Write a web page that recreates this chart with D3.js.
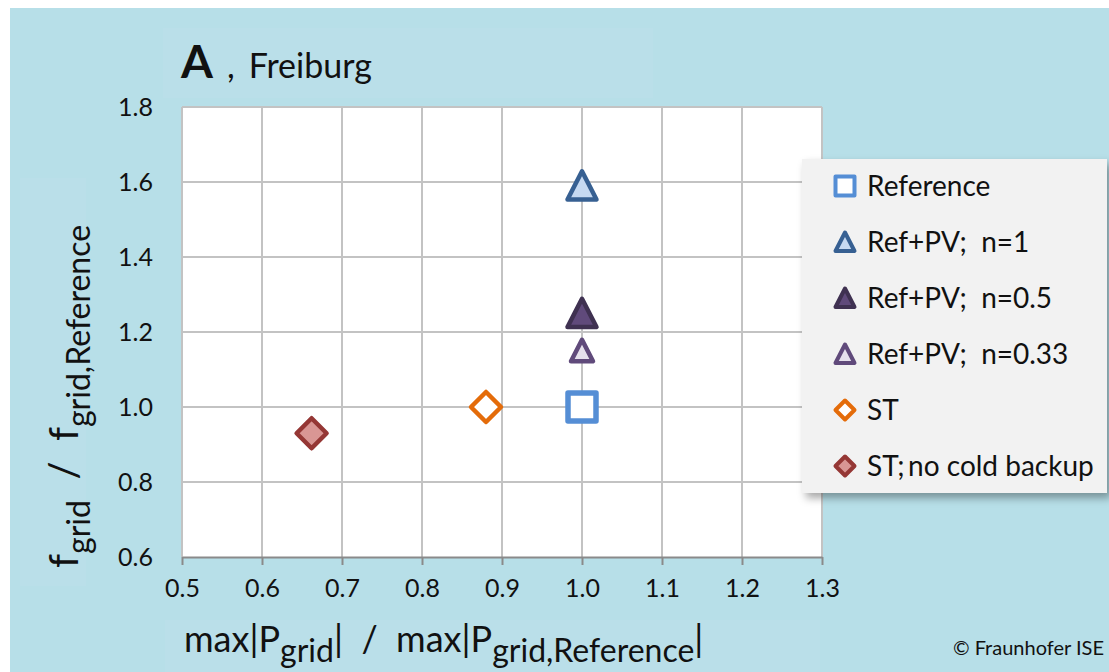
<!DOCTYPE html>
<html>
<head>
<meta charset="utf-8">
<script src="https://cdn.jsdelivr.net/npm/d3@7"></script>
<style>
  html, body { margin: 0; padding: 0; background: #ffffff; }
  svg { display: block; }
  text { font-family: Lato, "Open Sans", sans-serif; fill: #111; }
</style>
</head>
<body>
<div id="chart"></div>
<script>
// series
var seriesNames = ["Reference", "Ref+PV;  n=1", "Ref+PV;  n=0.5", "Ref+PV;  n=0.33", "ST", "ST;\u2009no cold backup"];
var xValues = [1.0, 1.0, 1.0, 1.0, 0.88, 0.662];
var yValues = [1.0, 1.59, 1.25, 1.15, 1.0, 0.93];
var shapes = ["square", "triangle", "triangle", "triangle", "diamond", "diamond"];
var fills = ["#ffffff", "#c6d9f1", "#604a7b", "#e5e0ec", "#ffffff", "#d99694"];
var strokes = ["#558ed5", "#376092", "#3f3151", "#604a7b", "#e46c0a", "#953735"];
var sizes = [28, 29, 29, 22, 30, 30];

var xTicks = [0.5, 0.6, 0.7, 0.8, 0.9, 1.0, 1.1, 1.2, 1.3];
var yTicks = [0.6, 0.8, 1.0, 1.2, 1.4, 1.6, 1.8];

var w = 1109, h = 672;
var plotLeft = 182, plotRight = 822, plotTop = 107, plotBottom = 557;

var svg = d3.select("#chart").append("svg")
  .attr("width", w)
  .attr("height", h);

// background
svg.append("rect").attr("x", 10).attr("y", 8).attr("width", w - 10).attr("height", h - 8)
  .attr("fill", "#b7dfe8");
// faint text boxes
svg.append("rect").attr("x", 163).attr("y", 28).attr("width", 490).attr("height", 70).attr("fill", "#badfe9");
svg.append("rect").attr("x", 20).attr("y", 178).attr("width", 66).attr("height", 408).attr("fill", "#badfe9");
svg.append("rect").attr("x", 165).attr("y", 620).attr("width", 655).attr("height", 52).attr("fill", "#badfe9");

var xScale = d3.scaleLinear().domain([0.5, 1.3]).range([plotLeft, plotRight]);
var yScale = d3.scaleLinear().domain([0.6, 1.8]).range([plotBottom, plotTop]);

svg.append("rect")
  .attr("x", plotLeft).attr("y", plotTop)
  .attr("width", plotRight - plotLeft).attr("height", plotBottom - plotTop)
  .attr("fill", "#ffffff");

// grid
svg.append("g").selectAll("line")
  .data(xTicks.slice(1))
  .enter().append("line")
  .attr("x1", function(d) { return xScale(d); })
  .attr("x2", function(d) { return xScale(d); })
  .attr("y1", plotTop).attr("y2", plotBottom)
  .attr("stroke", "#c3c3c3").attr("stroke-width", 2);

svg.append("g").selectAll("line")
  .data(yTicks.slice(1))
  .enter().append("line")
  .attr("x1", plotLeft).attr("x2", plotRight)
  .attr("y1", function(d) { return yScale(d); })
  .attr("y2", function(d) { return yScale(d); })
  .attr("stroke", "#c3c3c3").attr("stroke-width", 2);

svg.append("line")
  .attr("x1", plotLeft).attr("x2", plotLeft).attr("y1", plotTop).attr("y2", plotBottom)
  .attr("stroke", "#c3c3c3").attr("stroke-width", 2);

// x axis
var xAxis = d3.axisBottom(xScale)
  .tickValues(xTicks)
  .tickFormat(d3.format(".1f"))
  .tickSize(8)
  .tickSizeOuter(0)
  .tickPadding(14);

var gx = svg.append("g")
  .attr("transform", "translate(0," + plotBottom + ")")
  .call(xAxis);
gx.select(".domain").attr("stroke", "#8a8a8a").attr("stroke-width", 2);
gx.selectAll(".tick line").attr("stroke", "#8a8a8a").attr("stroke-width", 2);
gx.selectAll("text").attr("font-size", "25px").attr("fill", "#111")
  .attr("font-family", "Lato, 'Open Sans', sans-serif");

// y axis (labels only)
var yAxis = d3.axisLeft(yScale)
  .tickValues(yTicks)
  .tickFormat(d3.format(".1f"))
  .tickSize(0)
  .tickPadding(29);

var gy = svg.append("g")
  .attr("transform", "translate(" + plotLeft + ",0)")
  .call(yAxis);
gy.select(".domain").remove();
gy.selectAll("text").attr("font-size", "25px").attr("fill", "#111")
  .attr("font-family", "Lato, 'Open Sans', sans-serif");

// markers
function markerPath(shape, s) {
  var r = s / 2;
  if (shape === "square") {
    return "M" + (-r) + "," + (-r) + "H" + r + "V" + r + "H" + (-r) + "Z";
  }
  if (shape === "triangle") {
    return "M0," + (-r) + "L" + r + "," + (r * 0.95) + "L" + (-r) + "," + (r * 0.95) + "Z";
  }
  return "M0," + (-r) + "L" + r + ",0L0," + r + "L" + (-r) + ",0Z";
}

var points = d3.range(seriesNames.length);

svg.append("g").selectAll("path")
  .data(points)
  .enter().append("path")
  .attr("transform", function(i) { return "translate(" + xScale(xValues[i]) + "," + yScale(yValues[i]) + ")"; })
  .attr("d", function(i) { return markerPath(shapes[i], sizes[i]); })
  .attr("fill", function(i) { return fills[i]; })
  .attr("stroke", function(i) { return strokes[i]; })
  .attr("stroke-width", function(i) { return shapes[i] === "square" ? 5.5 : 4.5; })
  .attr("stroke-linejoin", "round");

// legend
var defs = svg.append("defs");
var filter = defs.append("filter").attr("id", "shadow")
  .attr("x", "-10%").attr("y", "-10%").attr("width", "130%").attr("height", "130%");
filter.append("feDropShadow").attr("dx", 4).attr("dy", 5).attr("stdDeviation", 4)
  .attr("flood-color", "#000").attr("flood-opacity", 0.35);

var legend = svg.append("g");
legend.append("rect")
  .attr("x", 802).attr("y", 159).attr("width", 305).attr("height", 334)
  .attr("fill", "#f2f2f2")
  .attr("filter", "url(#shadow)");

var legendY = d3.scalePoint().domain(points).range([186, 466]);

var items = legend.selectAll("g.item")
  .data(points)
  .enter().append("g")
  .attr("class", "item")
  .attr("transform", function(i) { return "translate(0," + legendY(i) + ")"; });

items.append("path")
  .attr("transform", "translate(845,0)")
  .attr("d", function(i) { return markerPath(shapes[i], shapes[i] === "square" ? 19 : 19); })
  .attr("fill", function(i) { return fills[i]; })
  .attr("stroke", function(i) { return strokes[i]; })
  .attr("stroke-width", 4)
  .attr("stroke-linejoin", "round");

items.append("text")
  .attr("x", 867)
  .attr("y", 0)
  .attr("dy", "0.35em")
  .attr("font-size", "28px")
  .attr("xml:space", "preserve")
  .text(function(i) { return seriesNames[i]; });

// title
var title = svg.append("text").attr("x", 181).attr("y", 78);
title.append("tspan").attr("font-size", "46px").attr("font-weight", "bold").text("A");
title.append("tspan").attr("font-size", "34px").attr("dx", 14).text(",");
title.append("tspan").attr("font-size", "34px").attr("dx", 14).text("Freiburg");

// y axis title
var yt = svg.append("text")
  .attr("transform", "translate(78,568) rotate(-90)")
  .attr("font-size", "40px")
  .attr("xml:space", "preserve");
yt.append("tspan").text("f");
yt.append("tspan").attr("font-size", "32px").attr("dy", 12).text("grid");
yt.append("tspan").attr("dy", -12).text("  /  f");
yt.append("tspan").attr("font-size", "32px").attr("dy", 12).text("grid,Reference");

// x axis title
var xt = svg.append("text")
  .attr("x", 184).attr("y", 652)
  .attr("font-size", "36px")
  .attr("xml:space", "preserve");
xt.append("tspan").text("max|P");
xt.append("tspan").attr("font-size", "32px").attr("dy", 10).text("grid");
xt.append("tspan").attr("dy", -10).text("|  /  max|P");
xt.append("tspan").attr("font-size", "32px").attr("dy", 10).text("grid,Reference");
xt.append("tspan").attr("dy", -10).text("|");

svg.append("text")
  .attr("x", 1104).attr("y", 655)
  .attr("text-anchor", "end")
  .attr("font-size", "20px")
  .text("\u00a9 Fraunhofer ISE");
</script>
</body>
</html>
